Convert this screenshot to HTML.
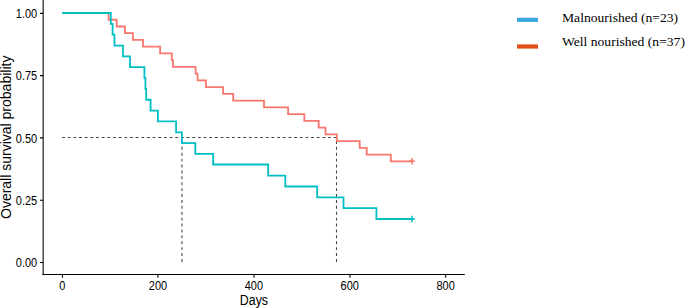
<!DOCTYPE html>
<html>
<head>
<meta charset="utf-8">
<style>
html,body{margin:0;padding:0;background:#fff;}
body{width:685px;height:308px;overflow:hidden;}
svg{display:block;}
.ax{font-family:"Liberation Sans",sans-serif;fill:#000;}
.lg{font-family:"Liberation Serif",serif;fill:#000;}
</style>
</head>
<body>
<svg width="685" height="308" viewBox="0 0 685 308">
<rect width="685" height="308" fill="#fff"/>
<!-- median dashed lines -->
<g stroke="#444" stroke-width="1.07" fill="none">
<path stroke-dasharray="2.83 2.83" d="M62.1,137.45 H336.5"/>
<path stroke-dasharray="2.95 2.95" d="M181.95,261.9 V137.45"/>
<path stroke-dasharray="2.95 2.95" d="M336.5,261.9 V137.45"/>
</g>
<!-- curves -->
<g fill="none" stroke-width="1.8" stroke-linejoin="miter" stroke-linecap="butt">
<path stroke="#F8766D" d="M62.2,13 H108.6 V19.74 H116.7 V26.48 H124.9 V33.22 H132.9 V39.96 H143.0 V46.70 H160.1 V53.44 H171.8 V60.18 H173.0 V66.92 H195.6 V73.66 H197.6 V80.40 H206.0 V87.14 H223.1 V93.88 H233.2 V100.62 H264.0 V107.36 H288.1 V114.10 H304.3 V120.84 H318.7 V127.58 H325.5 V134.32 H336.8 V141.06 H359.7 V147.80 H366.7 V154.54 H390.8 V161.28 H412"/>
<path stroke="#F8766D" stroke-width="1.5" d="M409,161.28 H415 M412,158.1 V164.5"/>
<path stroke="#00BFC4" d="M62.2,13 H110.8 V23.84 H112.6 V34.69 H114.5 V45.53 H123.0 V56.37 H130.0 V67.22 H144.4 V78.06 H145.4 V88.90 H146.2 V99.75 H150.6 V110.59 H157.9 V121.43 H176.1 V132.28 H181.9 V143.12 H195.3 V153.8 H213.2 V164.5 H268.2 V175.65 H285.3 V186.49 H317.2 V197.34 H343.5 V208.18 H376.4 V219.02 H412"/>
<path stroke="#00BFC4" stroke-width="1.5" d="M409,219.02 H415 M412,215.8 V222.2"/>
</g>
<!-- axes -->
<g stroke="#000" stroke-width="1.07" fill="none">
<path d="M43.15,0 V275"/>
<path d="M42.5,274.5 H464.8"/>
<path d="M40,13.4 H43 M40,75.65 H43 M40,137.9 H43 M40,200.2 H43 M40,262.5 H43"/>
<path d="M62.45,275 V277.8 M157.9,275 V277.8 M254,275 V277.8 M349.95,275 V277.8 M445.65,275 V277.8"/>
</g>
<g class="ax" font-size="11" text-anchor="end">
<text transform="translate(37.2,17.80) scale(1,1.1)">1.00</text>
<text transform="translate(37.2,80.15) scale(1,1.1)">0.75</text>
<text transform="translate(37.2,142.50) scale(1,1.1)">0.50</text>
<text transform="translate(37.2,204.85) scale(1,1.1)">0.25</text>
<text transform="translate(37.2,267.20) scale(1,1.1)">0.00</text>
</g>
<g class="ax" font-size="11" text-anchor="middle">
<text transform="translate(62.2,289.6) scale(1,1.1)">0</text>
<text transform="translate(158,289.6) scale(1,1.1)">200</text>
<text transform="translate(253.9,289.6) scale(1,1.1)">400</text>
<text transform="translate(349.7,289.6) scale(1,1.1)">600</text>
<text transform="translate(445.6,289.6) scale(1,1.1)">800</text>
</g>
<text class="ax" font-size="12.4" text-anchor="middle" transform="translate(253.9,304.7) scale(1,1.12)">Days</text>
<text class="ax" font-size="14" text-anchor="middle" transform="translate(10.8,137.3) rotate(-90)">Overall survival probability</text>
<!-- legend -->
<rect x="517" y="17.7" width="21" height="4.2" fill="#39A9DE"/>
<rect x="517" y="44.4" width="21" height="4.2" fill="#E04E1A"/>
<text class="lg" font-size="12.6" transform="translate(562,22) scale(1.08,1)">Malnourished (n=23)</text>
<text class="lg" font-size="12.6" transform="translate(562,46.4) scale(1.08,1)">Well nourished (n=37)</text>
</svg>
</body>
</html>
